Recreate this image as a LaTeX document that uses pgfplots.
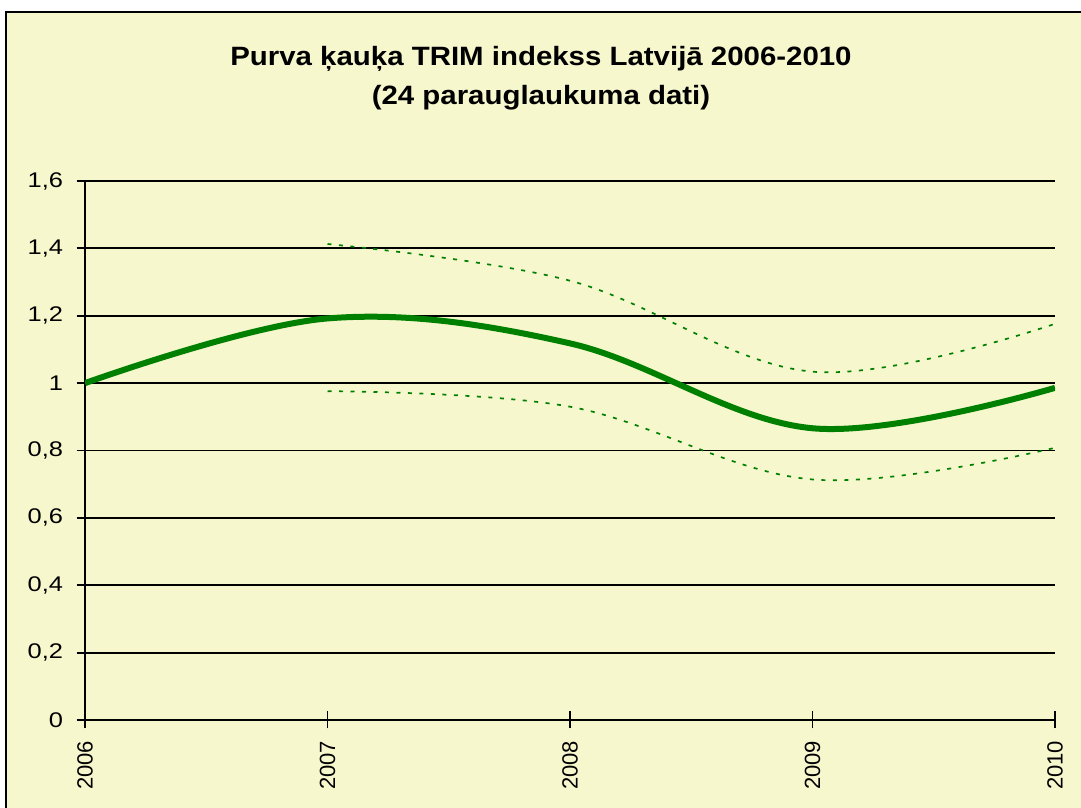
\documentclass[border=0pt]{standalone}
\usepackage{fontspec}
\setmainfont{Liberation Sans}
\newfontfamily\ytickfont[FakeStretch=1.2]{Liberation Sans}
\usepackage{pgfplots}
\pgfplotsset{compat=1.18}

\definecolor{chartbg}{RGB}{247,247,206}
\definecolor{kgreen}{RGB}{0,128,0}

\begin{document}
\begin{tikzpicture}
  % page is 1081x808 px at 0.5pt per px
  \useasboundingbox (0,0) rectangle (540.5pt,404pt);
  \draw[line width=1pt, fill=chartbg] (3pt,-5pt) rectangle (546pt,398pt);

  \node[anchor=base, xscale=1.11, font=\bfseries\fontsize{13.25}{16}\selectfont, inner sep=0pt]
    at (270.5pt,371.2pt) {Purva ķauķa TRIM indekss Latvijā 2006-2010};
  \node[anchor=base, xscale=1.11, font=\bfseries\fontsize{13.25}{16}\selectfont, inner sep=0pt]
    at (270.5pt,351.6pt) {(24 parauglaukuma dati)};

  \begin{axis}[
      at={(42.5pt,44pt)}, anchor=south west,
      scale only axis,
      width=485pt, height=269.5pt,
      xmin=2006, xmax=2010,
      ymin=0, ymax=1.6,
      xtick={2006,2007,2008,2009,2010},
      xticklabels={2006,2007,2008,2009,2010},
      ytick={0,0.2,0.4,0.6,0.8,1,1.2,1.4,1.6},
      axis x line*=bottom,
      axis y line*=left,
      axis line style={line width=0.9pt, black},
      ymajorgrids,
      major grid style={line width=0.9pt, black},
      tick style={line width=0.9pt, black},
      major tick length=8.5pt,
      tick align=center,
      /pgf/number format/use comma,
      /pgf/number format/assume math mode=true,
      xticklabel style={font=\fontsize{11}{13}\selectfont, yshift=-6pt, rotate=90, anchor=east, inner sep=0pt},
      yticklabel style={font=\ytickfont\fontsize{10.6}{12}\selectfont, anchor=east, inner sep=0pt, xshift=-6.5pt},
    ]
    \addplot[kgreen, line width=3pt, smooth, tension=0.6] coordinates {
      (2006,1.000) (2007,1.192) (2008,1.118) (2009,0.866) (2010,0.986)};
    \addplot[kgreen, line width=0.85pt, dash pattern=on 2pt off 3.75pt, smooth, tension=0.6] coordinates {
      (2007,1.413) (2008,1.304) (2009,1.034) (2010,1.176)};
    \addplot[kgreen, line width=0.85pt, dash pattern=on 2pt off 3.75pt, smooth, tension=0.6] coordinates {
      (2007,0.976) (2008,0.930) (2009,0.714) (2010,0.808)};
  \end{axis}
\end{tikzpicture}
\end{document}
